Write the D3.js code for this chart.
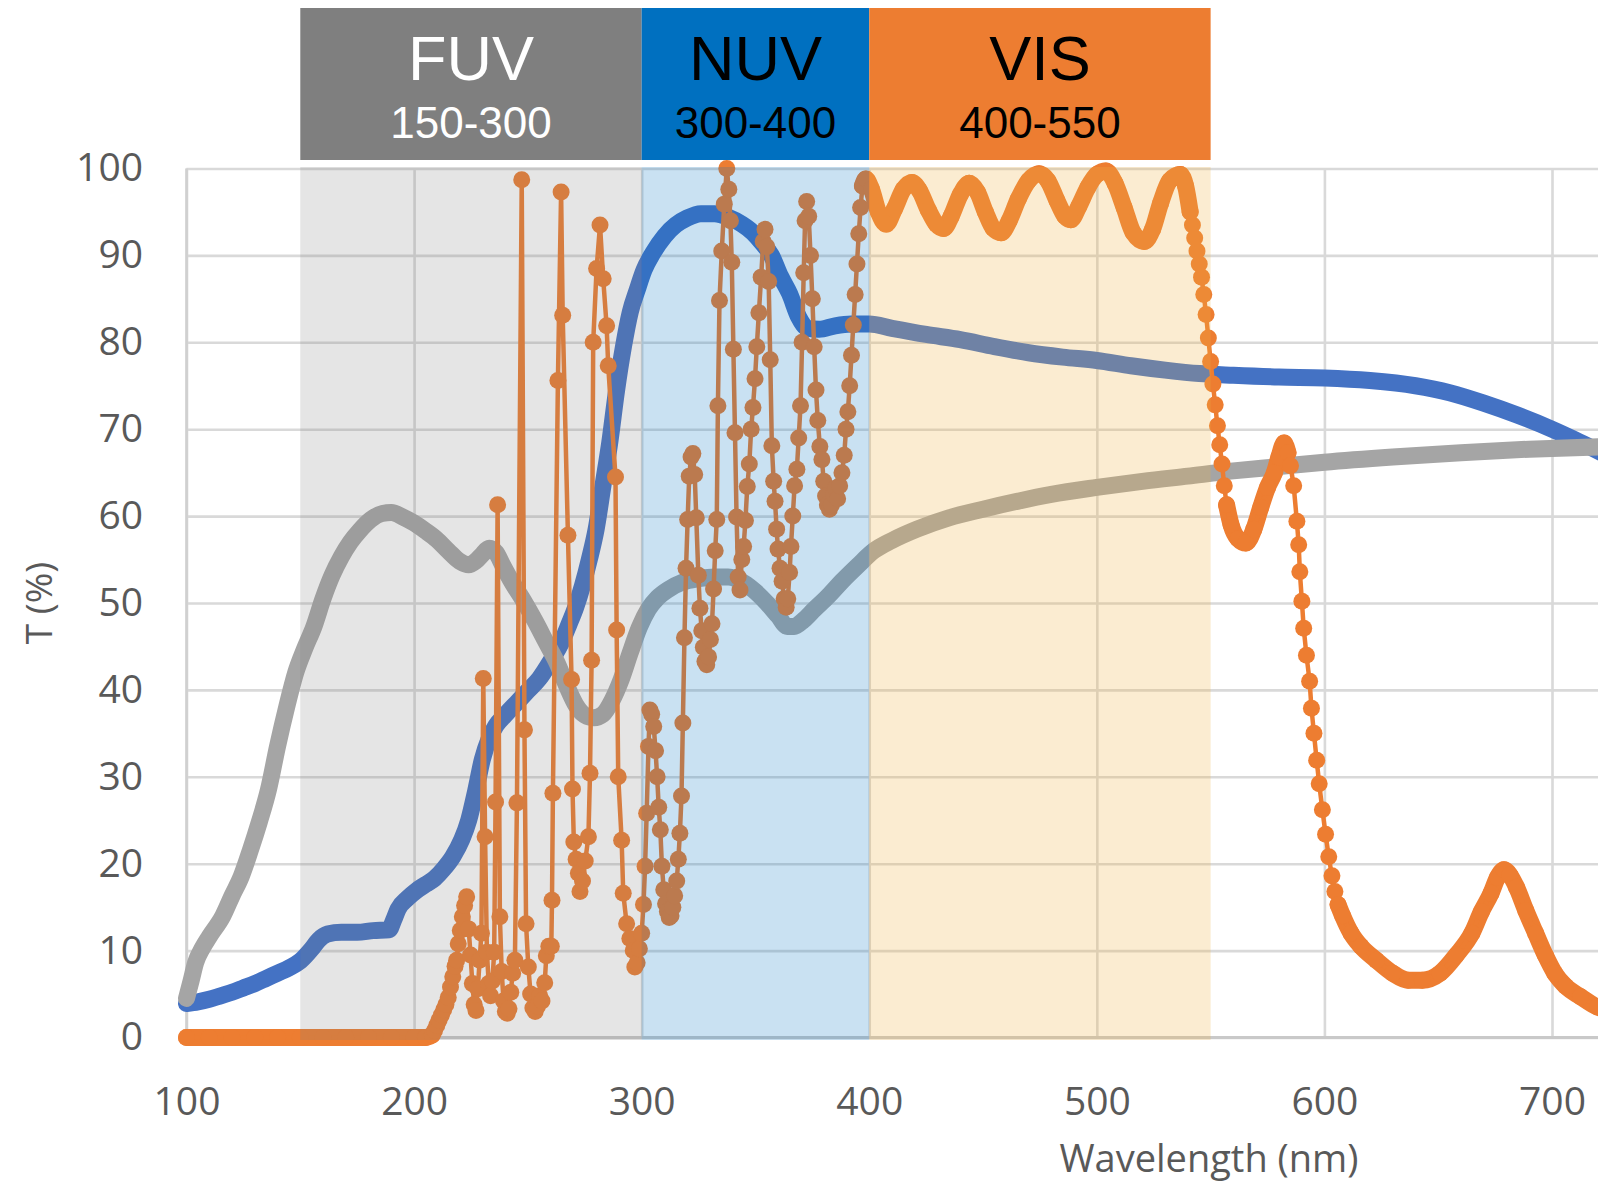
<!DOCTYPE html>
<html>
<head>
<meta charset="utf-8">
<script src="https://cdn.jsdelivr.net/npm/d3@7/dist/d3.min.js"></script>
<style>
  html, body { margin: 0; padding: 0; background: #ffffff; }
  svg { display: block; }
</style>
</head>
<body>
<svg id="chart" width="1598" height="1185"></svg>
<script>
// ---- axis ticks ----
const xTickValues = [100, 200, 300, 400, 500, 600, 700];
const yTickValues = [0, 10, 20, 30, 40, 50, 60, 70, 80, 90, 100];

// ---- spectral regions ----
const regionNames  = ["FUV", "NUV", "VIS"];
const regionLabels = ["150-300", "300-400", "400-550"];
const regionStart  = [150, 300, 400];
const regionEnd    = [300, 400, 550];

// ---- transmission curves: [wavelength nm, T %] ----
const blueTrace = [
  [100,3.9],[105,4.1],[110,4.4],[115,4.8],[120,5.2],[125,5.7],[130,6.2],[135,6.8],[140,7.4],[145,8.0],
  [150,8.8],[155,10.2],[158,11.2],[162,11.9],[168,12.1],[175,12.1],[182,12.3],[189,12.4],[191,13.5],[193,14.8],
  [197,16.0],[201,16.9],[205,17.6],[209,18.3],[213,19.4],[217,20.8],[221,22.8],[224,25.0],[227,28.3],[230,32.0],
  [233,34.4],[236,35.9],[240,37.1],[245,38.5],[250,39.9],[255,41.3],[260,43.3],[265,45.6],[268,47.5],[271,49.5],
  [274,52.0],[277,55.0],[280,58.5],[283,63.5],[286,68.5],[289,74.5],[292,79.5],[295,83.5],[298,86.0],[301,88.3],
  [305,90.3],[310,92.2],[315,93.5],[320,94.3],[326,94.8],[332,94.8],[338,94.4],[344,93.6],[349,92.6],[353,91.4],
  [357,90.0],[361,87.6],[365,85.6],[369,82.9],[373,81.6],[378,81.5],[385,81.9],[392,82.1],[400,82.1],[410,81.6],
  [425,80.9],[440,80.3],[455,79.5],[470,78.8],[485,78.3],[500,77.9],[515,77.3],[530,76.8],[545,76.4],[560,76.2],
  [580,76.0],[600,75.9],[620,75.6],[640,75.0],[655,74.2],[670,73.0],[685,71.6],[700,70.0],[710,68.8],[724,67.0]
];

const greyTrace = [
  [100,4.5],[102,6.5],[104,8.6],[107,10.3],[110,11.6],[116,14.0],[120,16.3],[124,18.5],[128,21.5],[132,24.8],
  [136,28.5],[140,33.5],[144,38.0],[148,42.0],[152,44.8],[156,47.3],[160,50.5],[164,53.2],[168,55.3],[172,57.0],
  [176,58.3],[181,59.6],[186,60.3],[190,60.4],[195,59.9],[200,59.2],[205,58.3],[210,57.3],[215,56.0],[220,54.8],
  [224,54.4],[227,54.8],[230,55.6],[233,56.3],[236,55.8],[239,54.3],[243,52.4],[248,50.3],[253,48.0],[258,45.5],
  [263,43.0],[267,40.5],[271,38.3],[275,37.1],[279,36.8],[283,37.2],[287,38.8],[291,41.2],[295,44.3],[299,47.2],
  [303,49.3],[307,50.6],[312,51.6],[318,52.4],[325,52.8],[332,53.0],[338,53.0],[345,52.3],[350,51.3],[355,50.0],
  [360,48.5],[364,47.3],[367,47.3],[371,48.0],[376,49.3],[382,50.8],[388,52.5],[395,54.3],[402,56.0],[410,57.2],
  [421,58.5],[435,59.8],[450,60.8],[465,61.7],[480,62.5],[500,63.3],[520,64.0],[540,64.6],[560,65.2],[580,65.7],
  [600,66.2],[630,66.8],[660,67.3],[690,67.7],[724,68.0]
];

const orangeTrace = [
  // flat zero stretch
  [100,0],[110,0],[120,0],[130,0],[140,0],[150,0],[160,0],[170,0],[180,0],[190,0],[200,0],[205,0],[208,0.3],
  // FUV fringes
  [209,0.8],[210,1.4],[211,2.0],[212,2.6],[213,3.2],[214,3.8],[215,4.6],[216,5.8],[217,7.0],[218,8.2],
  [218.7,8.9],[219.4,10.8],[220.3,12.3],[221.2,13.9],[222.2,15.2],[223.1,16.2],[224,12.5],[224.8,9.5],[225.6,6.2],[226.4,3.8],
  [227.2,3.1],[228,5.6],[228.8,8.9],[229.6,12.0],[230.4,41.3],[231.2,23.1],[232,9.8],[232.8,6.2],[233.6,4.8],[234.4,6.5],
  [235.2,9.8],[235.8,27.1],[236.7,61.3],[237.7,13.9],[238.5,7.6],[239.3,4.2],[240.1,3.0],[240.9,2.8],[241.7,3.3],[242.5,5.2],
  [243.3,7.4],[244.3,8.9],[245.2,27.0],[247.3,98.7],[248.5,35.4],[249.2,13.1],[250.2,8.1],[251.2,5.0],[252.2,3.4],[253.2,3.0],
  [254.2,3.6],[255.2,4.8],[256.2,4.2],[257.4,6.3],[258.1,9.4],[259.2,10.5],[260.3,10.5],[260.6,15.8],[261,28.1],[263.2,75.6],
  [264.6,97.3],[265.3,83.1],[267.6,57.8],[269.2,41.2],[269.6,28.6],[270.2,22.5],[271.2,20.5],[272.2,18.9],[272.9,16.8],[274,18.0],
  [275.2,20.3],[276.6,23.1],[277.3,30.4],[278,43.4],[278.7,80.0],[280.2,88.5],[281.7,93.5],[283.1,87.3],[284.6,81.9],[285.3,77.3],
  [288.5,64.5],[289,46.9],[289.7,30.0],[291.2,22.7],[291.9,16.6],[293.4,13.1],[294.8,11.4],[296.3,10.0],[297,8.1],
  // NUV fringes
  [298,8.6],[299,10.2],[300,12.0],[300.8,15.3],[301.5,19.7],[302.2,25.8],[303,33.5],[303.6,37.7],
  [304.4,37.2],[305.3,35.8],[306.1,33.0],[306.8,30.0],[307.5,26.5],[308.2,23.9],[308.9,19.7],[309.7,17.0],[310.5,15.4],[311.3,14.5],
  [312.1,13.8],[312.9,14.0],[313.7,15.0],[314.5,16.3],[315.4,18.0],[316.1,20.5],[316.8,23.5],[317.5,27.8],[318.1,36.2],[318.8,46.0],
  [319.5,54.0],[320.2,59.6],[320.9,64.6],[321.7,66.8],[322.5,67.2],[323.3,64.8],[324,59.8],[324.9,53.2],[325.6,49.4],[326.4,46.8],
  [327.1,44.9],[327.8,43.3],[328.6,42.9],[329.4,43.8],[330.2,45.8],[330.9,47.6],[331.6,51.6],[332.3,56.0],[333,59.6],[333.5,72.7],
  [334.2,84.8],[335.2,90.5],[336.3,95.9],[337.4,100.0],[338.3,97.6],[339,94.0],[339.6,89.2],[340.3,79.2],[341,69.6],[341.7,59.9],
  [342.4,53.0],[343.2,51.5],[344,55.0],[344.8,56.5],[345.6,59.5],[346.4,63.4],[347.3,66.0],[348.1,70.0],[348.9,72.5],[349.8,75.8],
  [350.6,79.5],[351.5,83.4],[352.5,87.5],[353.4,91.6],[354.2,93.0],[355,91.0],[355.8,87.0],[356.5,78.0],[357.2,68.1],[358,64.0],
  [358.6,61.7],[359.3,58.5],[359.9,56.2],[360.8,54.0],[361.7,52.5],[362.6,50.5],[363.5,49.5],[364.2,50.5],[365,53.5],[365.6,56.5],
  [366.4,60.0],[367.2,63.5],[368.2,65.4],[369,69.0],[369.8,72.7],[370.5,80.0],[371.2,88.0],[371.8,94.0],[372.5,96.2],[373.4,94.5],
  [374.2,90.0],[375,85.0],[375.8,79.5],[376.6,74.5],[377.4,71.0],[378.3,68.0],[379.2,66.5],[380,64.0],[380.8,62.3],[381.6,61.3],
  [382.5,60.8],[383.4,61.3],[384.3,62.5],[385.2,63.2],[386.1,62.0],[387,63.5],[388,65.0],[389,67.0],[389.8,70.0],[390.6,72.0],
  [391.4,75.0],[392.2,78.5],[393,82.0],[393.8,85.5],[394.6,89.0],[395.4,92.5],[396.2,95.5],[397,98.0],
  // VIS ripple
  [398.5,98.8],[401,97.6],[404,95.0],[407.5,93.6],[411,95.3],[415,97.6],[418.7,98.4],[422,97.5],[426,95.2],[429.5,93.6],
  [432.7,93.1],[436,94.5],[440,97.0],[443.9,98.3],[447.5,97.3],[451,95.0],[454.5,93.1],[457.9,92.6],[461.5,94.0],[465.5,96.5],
  [470,98.6],[474.6,99.4],[478.5,98.6],[482.5,96.3],[486,94.5],[488.6,94.1],[492,95.6],[496,97.8],[500,99.3],[504,99.7],
  [508,98.3],[512,95.5],[516,92.6],[520.8,91.6],[524.5,93.0],[528,96.0],[532,98.6],[536.7,99.3],[539,98.0],[541,95.0],
  // band edge
  [542,93.5],[543,92.0],[544,90.5],[545,89.0],[546,87.5],[547,85.5],[548,83.2],[549,80.5],[550,77.8],[551,75.2],
  [552,72.8],[553,70.4],[554,68.2],[555,66.0],[556,63.5],[557,61.3],[559,59.0],[562,57.4],[565.5,56.9],[569,58.5],
  [572,61.0],[575,63.3],[578,65.0],[580,66.8],[582.3,68.4],[584,67.3],[585.1,65.8],[586.5,63.5],[587.9,59.4],[588.7,56.7],
  [589.2,53.6],[590.1,50.2],[590.9,47.1],[592.1,44.0],[593.5,41.0],[594.3,37.9],[595.4,35.0],[596.6,31.9],[597.7,29.2],[599.1,26.2],
  [600.5,23.4],[601.9,20.8],[603.3,18.6],[604.6,16.8],[606,15.3],
  // red side lobes
  [608,14.0],[611.7,12.0],[616,10.5],[622.8,8.9],[630,7.4],[636.8,6.6],[643,6.6],[650.8,7.4],[658,9.5],[664.8,12.0],
  [669,14.5],[673.2,16.6],[676,18.4],[678.9,19.3],[681.5,18.7],[684.4,17.3],[688.5,14.6],[692.8,12.0],[697,9.5],[701.2,7.4],
  [706,5.9],[712.5,4.7],[720,3.5],[724,3.2]
];

// stretches where the orange markers run together into a solid band
const orangeSolidRanges = [[100, 208.5], [396.5, 541], [557, 584], [606, 724]];

// ---- layout ----
const W = 1598, H = 1185;
const svg = d3.select("#chart");

const x = d3.scaleLinear().domain([100, 700]).range([186.5, 1552]);
const y = d3.scaleLinear().domain([0, 100]).range([1037.5, 168.5]);

const tickFont = "'Open Sans', 'DejaVu Sans', sans-serif";
const headFont = "'Liberation Sans', Arial, sans-serif";
const textGrey = "#595959";
const gridColor = "#d9d9d9";

// ---- gridlines and tick labels via axes ----
const yAxis = d3.axisLeft(y)
  .tickValues(yTickValues)
  .tickSize(-(W - x(100)))
  .tickPadding(x(100) - 143)
  .tickFormat(d3.format("d"));

const gy = svg.append("g")
  .attr("transform", `translate(${x(100)},0)`)
  .call(yAxis);
gy.select(".domain").remove();
gy.selectAll(".tick line").attr("stroke", gridColor).attr("stroke-width", 2.6);
gy.selectAll(".tick text")
  .attr("fill", textGrey)
  .style("font-family", tickFont)
  .style("font-size", "39px");

const xAxis = d3.axisBottom(x)
  .tickValues(xTickValues)
  .tickSize(-(y(0) - y(100)))
  .tickPadding(50)
  .tickFormat(d3.format("d"));

const gx = svg.append("g")
  .attr("transform", `translate(0,${y(0)})`)
  .call(xAxis);
gx.select(".domain").remove();
gx.selectAll(".tick line").attr("stroke", gridColor).attr("stroke-width", 2.6);
gx.selectAll(".tick text")
  .attr("fill", textGrey)
  .style("font-family", tickFont)
  .style("font-size", "39px");

// axis lines
svg.append("line")
  .attr("x1", x(100)).attr("x2", W)
  .attr("y1", y(0)).attr("y2", y(0))
  .attr("stroke", "#c9c9c9").attr("stroke-width", 2.8);
svg.append("line")
  .attr("x1", x(100)).attr("x2", x(100))
  .attr("y1", y(100)).attr("y2", y(0))
  .attr("stroke", "#d0d0d0").attr("stroke-width", 2.6);

// ---- curves ----
const curveLine = d3.line()
  .x(d => x(d[0]))
  .y(d => y(d[1]))
  .curve(d3.curveMonotoneX);

const straightLine = d3.line()
  .x(d => x(d[0]))
  .y(d => y(d[1]));

const plot = svg.append("g");

plot.append("path")
  .datum(blueTrace)
  .attr("d", curveLine)
  .attr("fill", "none")
  .attr("stroke", "#4472c4")
  .attr("stroke-width", 17)
  .attr("stroke-linecap", "round")
  .attr("stroke-linejoin", "round");

plot.append("path")
  .datum(greyTrace)
  .attr("d", curveLine)
  .attr("fill", "none")
  .attr("stroke", "#a5a5a5")
  .attr("stroke-width", 17)
  .attr("stroke-linecap", "round")
  .attr("stroke-linejoin", "round");

const orange = "#ed7d31";

// solid stretches
orangeSolidRanges.forEach(([a, b]) => {
  plot.append("path")
    .datum(orangeTrace.filter(d => d[0] >= a && d[0] <= b))
    .attr("d", curveLine)
    .attr("fill", "none")
    .attr("stroke", orange)
    .attr("stroke-width", 17)
    .attr("stroke-linecap", "round")
    .attr("stroke-linejoin", "round");
});

// connecting line and markers
plot.append("path")
  .datum(orangeTrace)
  .attr("d", straightLine)
  .attr("fill", "none")
  .attr("stroke", orange)
  .attr("stroke-width", 4.5)
  .attr("stroke-linejoin", "round");

plot.append("g")
  .selectAll("circle")
  .data(orangeTrace)
  .join("circle")
  .attr("cx", d => x(d[0]))
  .attr("cy", d => y(d[1]))
  .attr("r", 8.5)
  .attr("fill", orange);

// ---- translucent region shading over the curves ----
const shadeFill = ["#7f7f7f", "#0070c0", "#f0b446"];
const shadeOpacity = [0.2, 0.21, 0.25];

svg.append("g")
  .selectAll("rect")
  .data(regionNames)
  .join("rect")
  .attr("x", (d, i) => x(regionStart[i]))
  .attr("width", (d, i) => x(regionEnd[i]) - x(regionStart[i]))
  .attr("y", y(100) - 1.5)
  .attr("height", y(0) - y(100) + 4)
  .attr("fill", (d, i) => shadeFill[i])
  .attr("fill-opacity", (d, i) => shadeOpacity[i]);

// ---- region header boxes ----
const headFill = ["#7f7f7f", "#0070c0", "#ed7d31"];
const headText = ["#ffffff", "#000000", "#000000"];

const heads = svg.append("g")
  .selectAll("g")
  .data(regionNames)
  .join("g");

heads.append("rect")
  .attr("x", (d, i) => x(regionStart[i]))
  .attr("width", (d, i) => x(regionEnd[i]) - x(regionStart[i]))
  .attr("y", 8)
  .attr("height", 152)
  .attr("fill", (d, i) => headFill[i]);

heads.append("text")
  .attr("x", (d, i) => (x(regionStart[i]) + x(regionEnd[i])) / 2)
  .attr("y", 80)
  .attr("text-anchor", "middle")
  .attr("fill", (d, i) => headText[i])
  .style("font-family", headFont)
  .style("font-size", "63px")
  .text(d => d);

heads.append("text")
  .attr("x", (d, i) => (x(regionStart[i]) + x(regionEnd[i])) / 2)
  .attr("y", 138)
  .attr("text-anchor", "middle")
  .attr("fill", (d, i) => headText[i])
  .style("font-family", headFont)
  .style("font-size", "44px")
  .text((d, i) => regionLabels[i]);

// ---- axis titles ----
svg.append("text")
  .attr("transform", `translate(52,${y(50)}) rotate(-90)`)
  .attr("text-anchor", "middle")
  .attr("fill", textGrey)
  .style("font-family", tickFont)
  .style("font-size", "37px")
  .text("T (%)");

svg.append("text")
  .attr("x", 1209)
  .attr("y", 1172)
  .attr("text-anchor", "middle")
  .attr("fill", textGrey)
  .style("font-family", tickFont)
  .style("font-size", "38px")
  .text("Wavelength (nm)");
</script>
</body>
</html>
